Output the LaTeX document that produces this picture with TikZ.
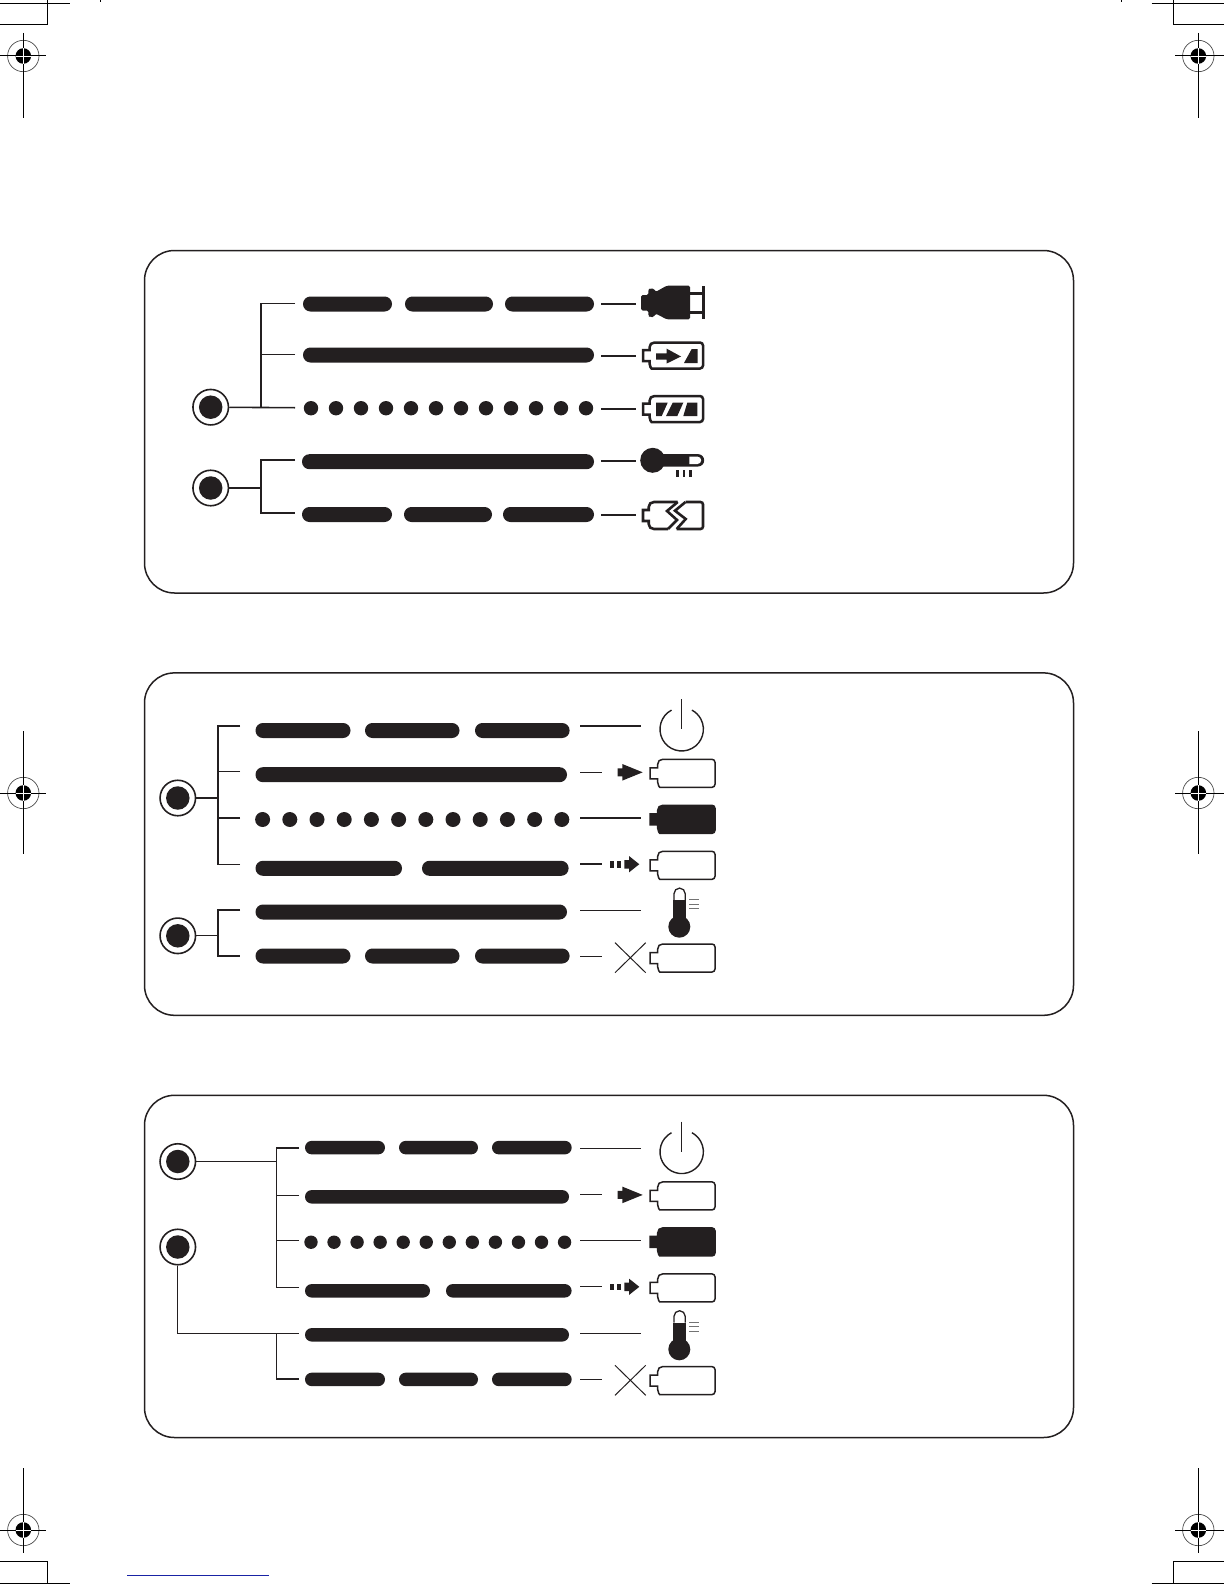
\documentclass[tikz,border=0pt]{standalone}
\usepackage{xcolor}
\usetikzlibrary{positioning,calc}
\definecolor{ink}{RGB}{35,31,32}
\definecolor{printline}{RGB}{25,35,165}
% battery outline: nub length, body end, half height
\newcommand{\battpath}[3]{[sharp corners] (0,-5.5) -- (#1,-5.5) -- (#1,-#3+5) .. controls (#1,-#3+2) and (#1+2,-#3) .. (#1+5,-#3)
  [rounded corners=3pt] -- (#2,-#3) -- (#2,#3) -- (#1+5,#3) [sharp corners] .. controls (#1+2,#3) and (#1,#3-2) .. (#1,#3-5) -- (#1,5.5) -- (0,5.5) -- cycle}

\begin{document}
\begin{tikzpicture}[
    x=1pt, y=-1pt,
    panel/.style={draw=ink, line width=1.5pt, rounded corners=30pt},
    bar/.style={fill=ink, rounded corners=7.4pt, minimum height=15pt, inner sep=0pt, outer sep=0pt, anchor=west},
    dotlamp/.style={circle, fill=ink, inner sep=0pt, outer sep=0pt},
    lamp/.style={circle, draw=ink, line width=1.6pt, minimum size=35.5pt, inner sep=0pt},
    lampcore/.style={circle, fill=ink, minimum size=23.5pt, inner sep=0pt},
    wire/.style={draw=ink, line width=1.6pt},
    thinwire/.style={draw=ink, line width=1.1pt},
    thickbatt/.style={draw=ink, line width=2.5pt},
    thinbatt/.style={draw=ink, line width=1.5pt},
    regline/.style={draw=black, line width=1pt},
    pics/batt/.style={code={\path[#1] \battpath{7.7}{65}{14};}},
    pics/thickcase/.style={code={\path[thickbatt, fill=white] \battpath{6.5}{60}{13};}},
  ]
  \useasboundingbox (0,0) rectangle (1224,1584);

  % Crop and registration marks
  \foreach \cx/\cy/\xa/\xb/\ya/\yb in {
    23.3/56/0/46/33/117.7,
    1198.3/56/1175/1224/33/117.7,
    23.3/793/0/46/731/854.3,
    1198.3/793/1175/1224/731/854.3,
    23.3/1530/0/46/1468.3/1552.7,
    1198.3/1530/1175/1224/1468.3/1552.7%
  } {
    \draw[black!70, line width=0.7pt] (\cx,\cy) circle[radius=15.7pt];
    \fill[black] (\cx,\cy) circle[radius=7.8pt];
    \draw[regline] (\xa,\cy) -- (\xb,\cy);
    \draw[regline] (\cx,\ya) -- (\cx,\yb);
    \draw[white, line width=0.8pt] (\cx-7.8,\cy) -- (\cx+7.8,\cy);
    \draw[white, line width=0.8pt] (\cx,\cy-7.8) -- (\cx,\cy+7.8);
  }
  \draw[regline] (0,3.5) -- (70,3.5);
  \draw[regline] (0,25) -- (47.5,25) -- (47.5,0);
  \draw[regline] (100.7,0) -- (100.7,2.5);
  \draw[regline] (1151.7,3.5) -- (1224,3.5);
  \draw[regline] (1224,25) -- (1173.3,25) -- (1173.3,0);
  \draw[regline] (1121.7,0) -- (1121.7,2.5);
  \draw[regline] (0,1561.3) -- (47.5,1561.3) -- (47.5,1583.3);
  \draw[regline] (0,1583.3) -- (70,1583.3);
  \draw[regline] (1224,1561.3) -- (1173.3,1561.3) -- (1173.3,1583.3);
  \draw[regline] (1151.7,1583.3) -- (1224,1583.3);
  \draw[printline, line width=1pt] (127,1575.3) -- (268.7,1575.3);

  % Panels
  \foreach \ya/\yb in {250.5/593, 672.9/1015.3, 1095.3/1437.5} {
    \draw[panel] (144.5,\ya) rectangle (1073.5,\yb);
  }

  % Panel 1: bars
  \foreach \n/\xa/\xb/\y in {
    aa/303/392/304, ab/405/493/304, ac/505/594/304,
    ba/303/594/355,
    da/302/594/461.7,
    ea/302/392/514.5, eb/404/492/514.5, ec/503/594/514.5%
  } {
    \pgfmathsetmacro{\w}{\xb-\xa}
    \node[bar, minimum width=\w pt] (one\n) at (\xa,\y) {};
  }
  \foreach \i in {0,...,11} {
    \node[dotlamp, minimum size=14.4pt] (oned\i) at (311+\i*25,408.2) {};
  }
  \node[lamp] (lampa) at (210.7,407.2) {};
  \node[lampcore] at (lampa) {};
  \node[lamp] (lampb) at (210.7,488) {};
  \node[lampcore] at (lampb) {};
  \coordinate (ja) at (260.7,407.7);
  \coordinate (jb) at (260.7,488);
  \foreach \n/\y in {a/303.5, b/354.5, c/407.7, d/460, e/513} {
    \coordinate (wone\n) at (295,\y);
  }
  \draw[wire] (wonea) -| (ja);
  \draw[thinwire] (woneb) -- (260.7,354.5);
  \draw[wire] (lampa) -- (wonec);
  \draw[wire] (lampb) -- (jb);
  \draw[wire] (woned) -| (jb) |- (wonee);
  \foreach \n/\y in {a/303.7, b/356, c/409, d/461, e/515} {
    \coordinate (leadl\n) at (601,\y);
    \coordinate (leadr\n) at (636,\y);
    \draw[wire] (leadl\n) -- (leadr\n);
  }

  % Panel 1: icons
  \fill[ink, rounded corners=1.5pt] (641,295) -- (648.3,295) -- (648.3,289.5) -- (650,288.5) -- (654,288.5) -- (655.5,292)
    -- (666.7,285.7) -- (690,285.7) -- (690,319.3) -- (666.7,319.3) -- (655.5,313.5) -- (654,317) -- (650,317) -- (648.3,316)
    -- (648.3,310.5) -- (641,310.5) -- cycle;
  \fill[ink] (689,292) rectangle (703,295);
  \fill[ink] (689,310.5) rectangle (703,313.5);
  \fill[ink] (702,285.7) rectangle (704.5,319.3);
  \pic at (643,355.5) {thickcase};
  \fill[ink] (656,353.3) -- (666.7,353.3) -- (666.7,348.7) -- (681,356.5) -- (666.7,363.5) -- (666.7,359.5) -- (656,359.5) -- cycle;
  \fill[ink] (684,363) -- (691.7,349) -- (697.7,349) -- (697.7,363) -- cycle;
  \pic at (643,409) {thickcase};
  \fill[ink] (656,402.7) -- (667.7,402.7) -- (661.7,416) -- (656,416) -- cycle;
  \fill[ink] (672.7,402.7) -- (683.3,402.7) -- (677.3,416) -- (666,416) -- cycle;
  \fill[ink] (687.3,402.7) -- (697.3,402.7) -- (697.3,416) -- (683.3,416) -- cycle;
  \fill[ink] (652.7,460.3) circle[radius=12.5pt];
  \fill[ink] (652,454.1) -- (698,454.1) arc[start angle=90, end angle=-90, radius=6.2pt] -- (652,466.5) -- cycle;
  \fill[white] (689.3,456.6) -- (697.5,456.6) arc[start angle=90, end angle=-90, radius=3.7pt] -- (689.3,464) -- cycle;
  \foreach \x in {677.3,684,690.7} {
    \draw[ink, line width=2.7pt] (\x,470) -- (\x,476.7);
  }
  % broken case
  \draw[ink, line width=2.6pt] (677.7,502) -- (654,502) .. controls (651,502) and (648.7,504) .. (648.7,507) -- (648.7,510) -- (643,510)
    -- (643,521) -- (648.7,521) -- (648.7,524) .. controls (648.7,527) and (651,529) .. (654,529) -- (668,529);
  \draw[ink, line width=2.6pt, miter limit=6] (677.7,502) -- (667,511) -- (677,520) -- (668,529);
  \draw[ink, line width=2.6pt, rounded corners=2.5pt] (685.5,502) -- (703,502) -- (703,529) -- (676.7,529);
  \draw[ink, line width=2.6pt, miter limit=6] (685.5,502) -- (675,510.7) -- (685.7,519) -- (676.7,529);

  % Panel 2: bars
  \foreach \n/\xa/\xb/\y in {
    aa/255.5/350.5/730.5, ab/365/459.5/730.5, ac/475/569.6/730.5,
    ba/255.5/567/774.7,
    da/255.5/402/868.3, db/422/568.6/868.3,
    ea/255.5/567/912,
    fa/255.5/350.5/956, fb/365/459.5/956, fc/475/569.6/956%
  } {
    \pgfmathsetmacro{\w}{\xb-\xa}
    \node[bar, minimum width=\w pt] (two\n) at (\xa,\y) {};
  }
  \foreach \i in {0,...,11} {
    \node[dotlamp, minimum size=15pt] (twod\i) at (262.6+\i*27.2,819.5) {};
  }
  \node[lamp] (lampc) at (177.8,798) {};
  \node[lampcore] at (lampc) {};
  \node[lamp] (lampd) at (177.8,935.8) {};
  \node[lampcore] at (lampd) {};
  \coordinate (jc) at (218,798);
  \coordinate (jd) at (218,935.8);
  \foreach \n/\y in {a/726, b/771.6, c/818, d/864.5, e/910, f/956} {
    \coordinate (wtwo\n) at (240,\y);
  }
  \draw[thinwire] (wtwoa) -| (jc);
  \draw[thinwire] (wtwob) -- (218,771.6);
  \draw[thinwire] (wtwoc) -- (218,818);
  \draw[thinwire] (wtwod) -| (jc);
  \draw[thinwire] (lampc) -- (jc);
  \draw[thinwire] (lampd) -- (jd);
  \draw[thinwire] (wtwoe) -| (jd) |- (wtwof);

  % Panel 3: bars
  \foreach \n/\xa/\xb/\y in {
    aa/305/385/1147.6, ab/399/478/1147.6, ac/492/571.7/1147.6,
    ba/305/569/1196.8,
    da/305/430/1290.8, db/446/571.6/1290.8,
    ea/305/569/1334.8,
    fa/305/385/1379.4, fb/399/478/1379.4, fc/492/571.7/1379.4%
  } {
    \pgfmathsetmacro{\w}{\xb-\xa}
    \node[bar, minimum width=\w pt, minimum height=13.5pt, rounded corners=6.7pt] (three\n) at (\xa,\y) {};
  }
  \foreach \i in {0,...,11} {
    \node[dotlamp, minimum size=13.4pt] (threed\i) at (311+\i*23.05,1242.2) {};
  }
  \node[lamp] (lampe) at (177.8,1161.5) {};
  \node[lampcore] at (lampe) {};
  \node[lamp] (lampf) at (177.8,1247) {};
  \node[lampcore] at (lampf) {};
  \coordinate (je) at (276.7,1161.5);
  \coordinate (jf) at (276.7,1333.5);
  \foreach \n/\y in {a/1148, b/1195.5, c/1240.5, d/1287.5, e/1333.5, f/1379} {
    \coordinate (wthree\n) at (299,\y);
  }
  \draw[thinwire] (wthreea) -| (je);
  \draw[thinwire] (wthreeb) -- (276.7,1195.5);
  \draw[thinwire] (wthreec) -- (276.7,1240.5);
  \draw[thinwire] (wthreed) -| (je);
  \draw[thinwire] (lampe) -- (je);
  \draw[thinwire] (lampf) |- (wthreee);
  \draw[thinwire] (jf) |- (wthreef);

  % Panels 2 and 3: leaders and icons
  \foreach \dy/\p in {0/p, 422.6/q} {
    \begin{scope}[yshift=-\dy pt]
      \foreach \n/\y/\xe in {a/726/640.6, b/772.3/602, c/818/640.6, d/864/602, e/910.7/640.6, f/956.7/602} {
        \coordinate (lead\p l\n) at (580,\y);
        \coordinate (lead\p r\n) at (\xe,\y);
        \draw[thinwire] (lead\p l\n) -- (lead\p r\n);
      }
      % power
      \draw[ink, line width=1.4pt] (671.5,710.1) arc[start angle=118, end angle=422, radius=21.7pt];
      \draw[ink, line width=1.4pt] (681.7,699) -- (681.7,729);
      % charge
      \fill[ink] (617.7,768.3) -- (622.3,768.3) -- (622.3,764) -- (642.7,772.3) -- (622.3,780.6) -- (622.3,776.3) -- (617.7,776.3) -- cycle;
      \pic at (650,773.3) {batt=thinbatt};
      % full
      \pic at (650,819.3) {batt={thinbatt, fill=ink}};
      % top-up
      \fill[ink] (610,861) rectangle (614,867.5);
      \fill[ink] (616.7,861) rectangle (620.7,867.5);
      \fill[ink] (624.3,860) -- (629,860) -- (629,856) -- (639.3,864.2) -- (629,872.4) -- (629,868.5) -- (624.3,868.5) -- cycle;
      \pic at (650,865.3) {batt=thinbatt};
      % temperature
      \fill[ink] (679.3,926.7) circle[radius=11pt];
      \fill[ink] (673.3,900) rectangle (685.8,925);
      \draw[ink, line width=1.3pt] (674,900) -- (674,893.7) arc[start angle=180, end angle=0, radius=5.6pt] -- (685.2,900);
      \foreach \y in {899.3,904,908.7} {
        \draw[black!55, line width=0.7pt] (689,\y) -- (699,\y);
      }
      % fault
      \draw[ink, line width=1pt] (615,942.7) -- (645.7,972.7);
      \draw[ink, line width=1pt] (645.7,942.7) -- (615,972.7);
      \pic at (650,958) {batt=thinbatt};
    \end{scope}
  }
\end{tikzpicture}
\end{document}
